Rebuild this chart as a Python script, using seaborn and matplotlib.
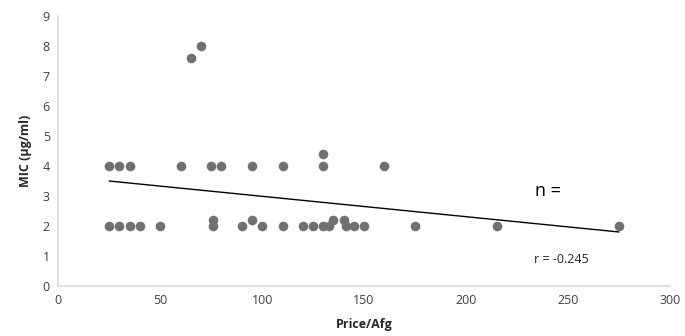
import matplotlib
matplotlib.use("Agg")
import matplotlib.pyplot as plt
import seaborn as sns
import pandas as pd

# Цена (Afg) и МПК (µg/ml)
price = [25, 30, 35, 40, 50, 76, 90, 100, 110, 120, 125, 130, 133, 141, 145, 150, 175, 215, 275,
         76, 95, 135, 140,
         25, 30, 35, 60, 75, 80, 95, 110, 130, 160,
         130, 65, 70]
mic = [2, 2, 2, 2, 2, 2, 2, 2, 2, 2, 2, 2, 2, 2, 2, 2, 2, 2, 2,
       2.2, 2.2, 2.2, 2.2,
       4, 4, 4, 4, 4, 4, 4, 4, 4, 4,
       4.4, 7.6, 8]

# линия тренда (концы)
trend_x = [25, 275]
trend_y = [3.5, 1.8]

df = pd.DataFrame({'price': price, 'mic': mic})
trend = pd.DataFrame({'x': trend_x, 'y': trend_y})

sns.set_style("white")
plt.rcParams['font.family'] = ['Open Sans', 'DejaVu Sans']

fig = plt.figure(figsize=(6.85, 3.36), dpi=100)
ax = fig.add_axes([0.085, 0.149, 0.893, 0.803])

sns.scatterplot(data=df, x='price', y='mic', color='#707070', s=48, linewidth=0, ax=ax, zorder=3)
sns.lineplot(data=trend, x='x', y='y', color='black', linewidth=1.0, ax=ax)

ax.set_xlim(0, 300)
ax.set_ylim(0, 9)
ax.set_xticks(range(0, 301, 50))
ax.set_yticks(range(0, 10))
ax.tick_params(length=0, labelsize=9, colors='#404040', pad=6)

for side in ['top', 'right']:
    ax.spines[side].set_visible(False)
for side in ['left', 'bottom']:
    ax.spines[side].set_color('#d9d9d9')
    ax.spines[side].set_linewidth(1.2)

ax.set_xlabel('Price/Afg', fontsize=9, fontweight='bold', labelpad=8)
ax.set_ylabel('MIC (µg/ml)', fontsize=9, fontweight='bold', labelpad=8)

ax.text(240, 3.18, 'n =', fontsize=13, ha='center', va='center', color='black')
ax.text(247, 0.87, 'r = -0.245', fontsize=9, ha='center', va='center', color='#202020')

fig.savefig('out.png', dpi=100)
